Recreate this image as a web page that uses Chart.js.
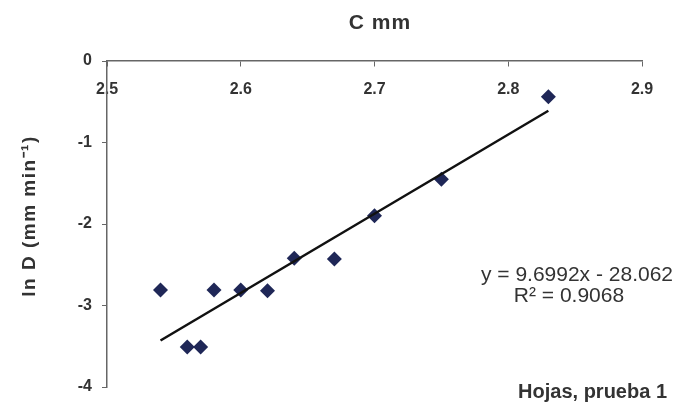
<!DOCTYPE html>
<html>
<head>
<meta charset="utf-8">
<script src="https://cdn.jsdelivr.net/npm/chart.js@4"></script>
<style>
  html, body { margin: 0; padding: 0; background: #fff; }
  #wrap { width: 674px; height: 411px; }
</style>
</head>
<body>
<div id="wrap"><canvas id="chart"></canvas></div>
<script>
// Data
const cValues = [2.54, 2.56, 2.57, 2.58, 2.60, 2.62, 2.64, 2.67, 2.70, 2.75, 2.83];
const lnDValues = [-2.81, -3.51, -3.51, -2.81, -2.81, -2.82, -2.42, -2.43, -1.90, -1.45, -0.44];

// Trendline end points (as drawn)
const trendX = [2.54, 2.83];
const trendY = [-3.43, -0.61];

const xTicks = [2.5, 2.6, 2.7, 2.8, 2.9];
const yTicks = [0, -1, -2, -3, -4];

const textColor = '#333333';
const axisColor = '#666666';
const fontFamily = '"Liberation Sans", Arial, sans-serif';

// Extra text: title, axis title, equation, sheet label
const annotations = {
    id: 'annotations',
    afterDraw(chart) {
        const ctx = chart.ctx;
        ctx.save();
        ctx.fillStyle = textColor;
        ctx.textBaseline = 'middle';

        // top title
        ctx.font = 'bold 21px ' + fontFamily;
        ctx.letterSpacing = '1px';
        ctx.textAlign = 'center';
        ctx.fillText('C mm', 380, 23);

        // y axis title, rotated
        ctx.save();
        ctx.translate(30, 216);
        ctx.rotate(-Math.PI / 2);
        ctx.font = 'bold 19px ' + fontFamily;
        ctx.letterSpacing = '1.5px';
        ctx.textAlign = 'center';
        ctx.fillText('ln D (mm min⁻¹)', 0, 0);
        ctx.restore();

        // regression equation
        ctx.letterSpacing = '0px';
        ctx.font = '21px ' + fontFamily;
        ctx.textAlign = 'right';
        ctx.fillText('y = 9.6992x - 28.062', 673, 275);
        ctx.textAlign = 'center';
        ctx.fillText('R² = 0.9068', 569, 296);

        ctx.font = 'bold 20px ' + fontFamily;
        ctx.textAlign = 'right';
        ctx.fillText('Hojas, prueba 1', 667, 392);
        ctx.restore();
    }
};

const ctx = document.getElementById('chart');

new Chart(ctx, {
    type: 'scatter',
    data: {
        datasets: [
            {
                label: 'ln D',
                data: cValues.map((x, i) => ({ x: x, y: lnDValues[i] })),
                pointStyle: 'rectRot',
                pointRadius: 7.5,
                pointHoverRadius: 7.5,
                backgroundColor: '#1f2757',
                borderColor: '#1f2757',
                borderWidth: 0,
                order: 2
            },
            {
                label: 'Lineal',
                type: 'line',
                data: trendX.map((x, i) => ({ x: x, y: trendY[i] })),
                borderColor: '#111111',
                borderWidth: 2.5,
                pointRadius: 0,
                fill: false,
                order: 1
            }
        ]
    },
    options: {
        responsive: true,
        maintainAspectRatio: false,
        animation: false,
        layout: {
            padding: { top: 61, right: 32, bottom: 24, left: 0 }
        },
        plugins: {
            legend: { display: false },
            tooltip: { enabled: false },
            title: { display: false }
        },
        scales: {
            x: {
                type: 'linear',
                position: { y: 0 },
                min: 2.5,
                max: 2.9,
                afterBuildTicks: scale => {
                    scale.ticks = xTicks.map(v => ({ value: v }));
                },
                grid: {
                    drawOnChartArea: false,
                    drawTicks: true,
                    tickLength: 5,
                    color: axisColor
                },
                border: { display: true, color: axisColor, width: 1.5 },
                ticks: {
                    color: textColor,
                    padding: 14,
                    font: { family: fontFamily, size: 16, weight: 'bold' },
                    callback: v => v.toFixed(1)
                }
            },
            y: {
                type: 'linear',
                position: 'left',
                min: -4,
                max: 0,
                afterBuildTicks: scale => {
                    scale.ticks = yTicks.map(v => ({ value: v }));
                },
                afterFit: scale => { scale.width = 107; },
                grid: {
                    drawOnChartArea: false,
                    drawTicks: true,
                    tickLength: 5,
                    color: axisColor
                },
                border: { display: true, color: axisColor, width: 1.5 },
                ticks: {
                    color: textColor,
                    padding: 10,
                    font: { family: fontFamily, size: 16, weight: 'bold' },
                    callback: v => String(v)
                },
                title: { display: false }
            }
        }
    },
    plugins: [annotations]
});
</script>
</body>
</html>
